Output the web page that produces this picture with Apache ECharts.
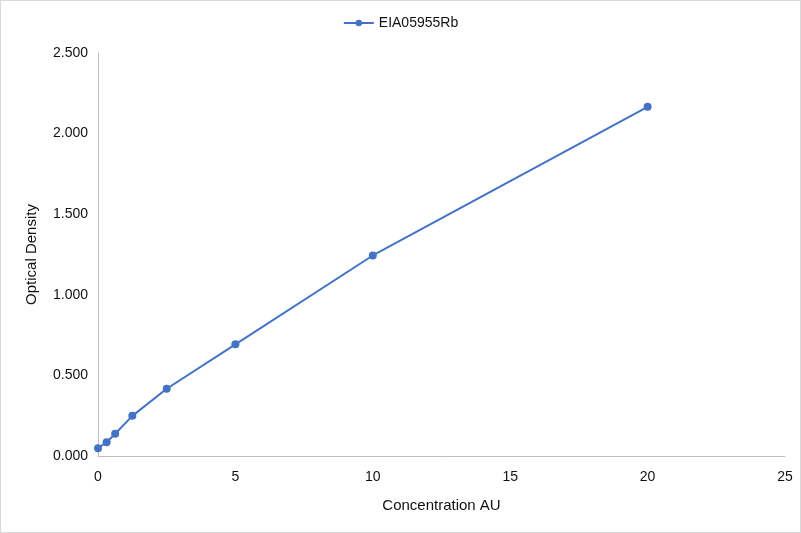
<!DOCTYPE html>
<html><head><meta charset="utf-8">
<script src="https://cdn.jsdelivr.net/npm/echarts@6/dist/echarts.min.js"></script>
<style>html,body{margin:0;padding:0;background:#fff}#c{width:801px;height:533px;box-sizing:border-box;border:1px solid #d9d9d9}</style>
</head><body><div id="c"></div>
<script>
const seriesName = 'EIA05955Rb';
const concentrations = [0, 0.3125, 0.625, 1.25, 2.5, 5, 10, 20];
const opticalDensity = [0.048, 0.085, 0.138, 0.249, 0.417, 0.693, 1.244, 2.166];
const chart = echarts.init(document.getElementById('c'));
const font = 'Liberation Sans, Arial, sans-serif';
const txt = '#111';
chart.setOption({
  animation: false,
  textStyle: {fontFamily: font},
  legend: {top: 10, left: 'center', itemWidth: 30, itemHeight: 8,
    textStyle: {fontSize: 14, color: txt, fontFamily: font},
    data: [seriesName]},
  grid: {left: 97, right: 15, top: 52, bottom: 76, containLabel: false},
  xAxis: {type: 'value', min: 0, max: 25, interval: 5,
    name: 'Concentration AU', nameLocation: 'middle', nameGap: 42,
    nameTextStyle: {fontSize: 15, color: txt, fontFamily: font},
    axisLine: {show: true, lineStyle: {color: '#bfbfbf'}},
    axisTick: {show: false}, splitLine: {show: false},
    axisLabel: {fontSize: 14, color: txt, margin: 14, fontFamily: font}},
  yAxis: {type: 'value', min: 0, max: 2.5, interval: 0.5,
    name: 'Optical Density', nameLocation: 'middle', nameGap: 59,
    nameTextStyle: {fontSize: 15, color: txt, fontFamily: font},
    axisLine: {show: true, lineStyle: {color: '#bfbfbf'}},
    axisTick: {show: false}, splitLine: {show: false},
    axisLabel: {fontSize: 14, color: txt, margin: 10, fontFamily: font,
      formatter: v => v.toFixed(3)}},
  series: [{name: seriesName, type: 'line',
    data: concentrations.map((x, i) => [x, opticalDensity[i]]),
    symbol: 'circle', symbolSize: 8,
    lineStyle: {color: '#4472C4', width: 2},
    itemStyle: {color: '#4472C4'}}]
});
</script></body></html>
